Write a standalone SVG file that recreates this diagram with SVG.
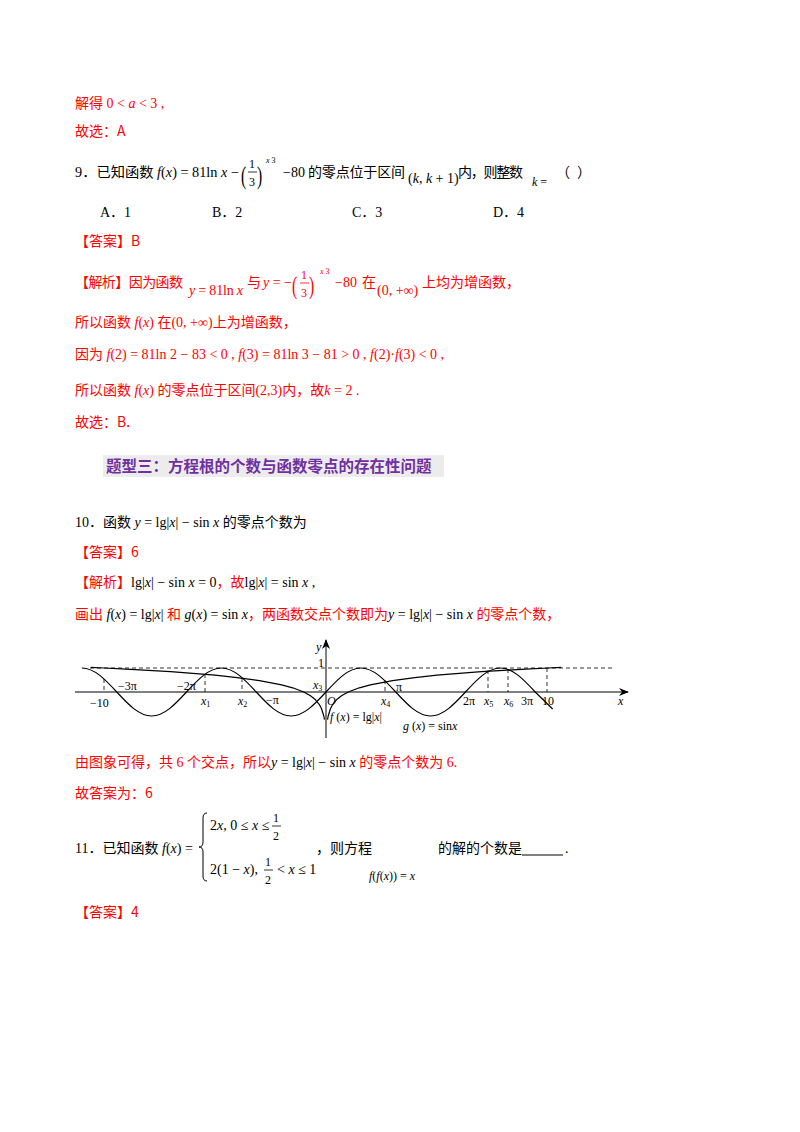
<svg xmlns="http://www.w3.org/2000/svg" width="800" height="1132" viewBox="0 0 800 1132">
<style>
text{font-family:"Liberation Serif","Noto Sans CJK SC",serif;font-size:14px;fill:#000}
.r,.r tspan{fill:#f00}
.c{font-family:"Noto Sans CJK SC",sans-serif}
.i{font-style:italic}
.g{font-size:12px}
.fr{font-size:12px}
.sp{font-size:8px}
.pa{font-size:26px;font-weight:100}
.ax{stroke:#000;stroke-width:1;fill:none}
.cv{stroke:#000;stroke-width:1.2;fill:none}
.d{stroke:#000;stroke-width:0.8;stroke-dasharray:4 3;fill:none}
</style>
<defs>
<marker id="ar" markerWidth="10" markerHeight="8" refX="9" refY="4" orient="auto" markerUnits="userSpaceOnUse"><path d="M0,0 L10,4 L0,8 L3,4z" fill="#000"/></marker>
<path id="lg" d="M327.55,719.7 L328.22,716 L330.44,708.8 L332.66,704.5 L337.1,699.2 L341.5,695.7 L348.2,692 L359.3,687.8 L370.4,684.8 L392.6,680.6 L414.8,677.6 L437,675.2 L459.2,673.3 L481.4,671.7 L503.6,670.3 L525.8,669.1 L548,668 L561.3,667.4"/>
</defs>

<g id="top">
<text x="75" y="108" class="r"><tspan class="c">解得</tspan> 0 &lt; <tspan class="i">a</tspan> &lt; 3 ,</text>
<text x="75" y="136" class="r c">故选：A</text>
</g>

<g id="q9">
<text x="75" y="177" textLength="164" lengthAdjust="spacingAndGlyphs"><tspan>9．</tspan><tspan class="c">已知函数</tspan> <tspan class="i">f</tspan>(<tspan class="i">x</tspan>) = 81ln <tspan class="i">x</tspan> −</text>
<text x="241" y="184" class="pa" transform="translate(241,184) scale(0.6,1) translate(-241,-184)">(</text>
<text x="249" y="168" class="fr">1</text>
<line x1="248" y1="172" x2="257" y2="172" stroke="#000" stroke-width="0.8"/>
<text x="249" y="186" class="fr">3</text>
<text x="257" y="184" class="pa" transform="translate(257,184) scale(0.6,1) translate(-257,-184)">)</text>
<text x="266" y="163" class="sp i">x <tspan font-style="normal">3</tspan></text>
<text x="283" y="177">−80</text>
<text x="308" y="177" class="c" textLength="97">的零点位于区间</text>
<text x="408" y="183">(<tspan class="i">k</tspan>, <tspan class="i">k</tspan> + 1)</text>
<text x="458" y="177" class="c" textLength="65">内，则整数</text>
<text x="532" y="186" class="g"><tspan class="i">k</tspan> =</text>
<text x="556" y="177" class="c">（</text>
<text x="577" y="177" class="c">）</text>
<text x="100" y="217">A．1</text>
<text x="212" y="217">B．2</text>
<text x="352" y="217">C．3</text>
<text x="493" y="217">D．4</text>
<text x="75" y="246" class="r c">【答案】B</text>
</g>

<g id="sol9" class="r">
<text x="75" y="287" class="r c" textLength="108">【解析】因为函数</text>
<text x="189" y="295" class="r" textLength="54"><tspan class="i">y</tspan> = 81ln <tspan class="i">x</tspan></text>
<text x="247" y="287" class="r c">与</text>
<text x="263" y="287" class="r"><tspan class="i">y</tspan> = −</text>
<text x="292" y="294" class="r pa" transform="translate(292,294) scale(0.6,1) translate(-292,-294)">(</text>
<text x="301" y="279" class="r fr">1</text>
<line x1="300" y1="283" x2="309" y2="283" stroke="#f00" stroke-width="0.8"/>
<text x="301" y="297" class="r fr">3</text>
<text x="309" y="294" class="r pa" transform="translate(309,294) scale(0.6,1) translate(-309,-294)">)</text>
<text x="320" y="274" class="r sp i">x <tspan font-style="normal">3</tspan></text>
<text x="335" y="287" class="r">−80</text>
<text x="362" y="287" class="r c">在</text>
<text x="377" y="295" class="r">(0, +∞)</text>
<text x="422" y="287" class="r c">上均为增函数，</text>

<text x="75" y="327" class="r"><tspan class="c">所以函数</tspan> <tspan class="i">f</tspan>(<tspan class="i">x</tspan>) <tspan class="c">在</tspan>(0, +∞)<tspan class="c">上为增函数，</tspan></text>
<text x="75" y="359" class="r"><tspan class="c">因为</tspan> <tspan class="i">f</tspan>(2) = 81ln 2 − 83 &lt; 0 ,  <tspan class="i">f</tspan>(3) = 81ln 3 − 81 &gt; 0 ,  <tspan class="i">f</tspan>(2)·<tspan class="i">f</tspan>(3) &lt; 0 ,</text>
<text x="75" y="395" class="r"><tspan class="c">所以函数</tspan> <tspan class="i">f</tspan>(<tspan class="i">x</tspan>) <tspan class="c">的零点位于区间</tspan>(2,3)<tspan class="c">内，故</tspan><tspan class="i">k</tspan> = 2 .</text>
<text x="75" y="427" class="r c">故选：B.</text>
</g>

<g id="band">
<rect x="103" y="455" width="341" height="22" fill="#ececec"/>
<text x="106" y="472" class="c" style="font-size:15.5px;font-weight:bold;fill:#7030a0">题型三：方程根的个数与函数零点的存在性问题</text>
</g>

<g id="q10">
<text x="75" y="527"><tspan>10．</tspan><tspan class="c">函数</tspan> <tspan class="i">y</tspan> = lg|<tspan class="i">x</tspan>| − sin <tspan class="i">x</tspan> <tspan class="c">的零点个数为</tspan></text>
<text x="75" y="557" class="r c">【答案】6</text>
<text x="75" y="587" class="r"><tspan class="c">【解析】</tspan><tspan style="fill:#000">lg|<tspan class="i" style="fill:#000">x</tspan>| − sin <tspan class="i" style="fill:#000">x</tspan> = 0</tspan><tspan class="c">，故</tspan><tspan style="fill:#000">lg|<tspan class="i" style="fill:#000">x</tspan>| = sin <tspan class="i" style="fill:#000">x</tspan> ,</tspan></text>
<text x="75" y="619" class="r"><tspan class="c">画出</tspan> <tspan style="fill:#000"><tspan class="i" style="fill:#000">f</tspan>(<tspan class="i" style="fill:#000">x</tspan>) = lg|<tspan class="i" style="fill:#000">x</tspan>|</tspan> <tspan class="c">和</tspan> <tspan style="fill:#000"><tspan class="i" style="fill:#000">g</tspan>(<tspan class="i" style="fill:#000">x</tspan>) = sin <tspan class="i" style="fill:#000">x</tspan></tspan><tspan class="c">，两函数交点个数即为</tspan><tspan style="fill:#000"><tspan class="i" style="fill:#000">y</tspan> = lg|<tspan class="i" style="fill:#000">x</tspan>| − sin <tspan class="i" style="fill:#000">x</tspan></tspan> <tspan class="c">的零点个数，</tspan></text>
</g>

<g id="graph">
<line class="ax" x1="75" y1="692" x2="628" y2="692" marker-end="url(#ar)"/>
<line class="ax" x1="326" y1="738" x2="326" y2="640" marker-end="url(#ar)"/>
<line class="d" x1="90" y1="668" x2="612" y2="668"/>
<line class="d" x1="104" y1="679" x2="104" y2="692"/>
<line class="d" x1="205" y1="674" x2="205" y2="692"/>
<line class="d" x1="242" y1="678" x2="242" y2="692"/>
<line class="d" x1="385" y1="680" x2="385" y2="692"/>
<line class="d" x1="488" y1="670" x2="488" y2="692"/>
<line class="d" x1="508" y1="669" x2="508" y2="692"/>
<line class="d" x1="547" y1="668" x2="547" y2="692"/>
<path class="cv" d="M81.9,668 c12.62,0 23.5,11.71 34.87,24 s22.25,24 34.87,24 s23.5,-11.71 34.87,-24 s22.25,-24 34.87,-24 s23.5,11.71 34.87,24 s22.25,24 34.87,24 s23.5,-11.71 34.87,-24 s22.25,-24 34.87,-24 s23.5,11.71 34.87,24 s22.25,24 34.87,24 s23.5,-11.71 34.87,-24 s22.25,-24 34.87,-24 s23.5,11.71 34.87,24 l17.45,17"/>
<use href="#lg" class="cv"/>
<use href="#lg" class="cv" transform="translate(652,0) scale(-1,1)"/>
<text x="90" y="707" class="g">−10</text>
<text x="118" y="690" class="g">−3π</text>
<text x="177" y="690" class="g">−2π</text>
<text x="201" y="705" class="g i">x<tspan font-size="8" font-style="normal" dy="2">1</tspan></text>
<text x="238" y="705" class="g i">x<tspan font-size="8" font-style="normal" dy="2">2</tspan></text>
<text x="266" y="704" class="g">−π</text>
<text x="313" y="689" class="g i">x<tspan font-size="8" font-style="normal" dy="2">3</tspan></text>
<text x="327" y="705" class="g i">O</text>
<text x="381" y="705" class="g i">x<tspan font-size="8" font-style="normal" dy="2">4</tspan></text>
<text x="396" y="691" class="g">π</text>
<text x="463" y="705" class="g">2π</text>
<text x="484" y="705" class="g i">x<tspan font-size="8" font-style="normal" dy="2">5</tspan></text>
<text x="504" y="705" class="g i">x<tspan font-size="8" font-style="normal" dy="2">6</tspan></text>
<text x="521" y="705" class="g">3π</text>
<text x="542" y="705" class="g">10</text>
<text x="618" y="705" class="g i">x</text>
<text x="316" y="651" class="g i">y</text>
<text x="318" y="667" class="g">1</text>
<text x="330" y="721" class="g"><tspan class="i">f</tspan> (<tspan class="i">x</tspan>) = lg|<tspan class="i">x</tspan>|</text>
<text x="403" y="730" class="g"><tspan class="i">g</tspan> (<tspan class="i">x</tspan>) = sin<tspan class="i">x</tspan></text>
</g>

<g id="sol10">
<text x="75" y="767" class="r"><tspan class="c">由图象可得，共</tspan> 6 <tspan class="c">个交点，所以</tspan><tspan style="fill:#000"><tspan class="i" style="fill:#000">y</tspan> = lg|<tspan class="i" style="fill:#000">x</tspan>| − sin <tspan class="i" style="fill:#000">x</tspan></tspan> <tspan class="c">的零点个数为</tspan> 6.</text>
<text x="75" y="798" class="r c">故答案为：6</text>
</g>

<g id="q11">
<text x="75" y="853"><tspan>11．</tspan><tspan class="c">已知函数</tspan> <tspan class="i">f</tspan>(<tspan class="i">x</tspan>) =</text>
<path d="M207,813 q-4,0 -4,5 v24 q0,5 -4,5 q4,0 4,5 v24 q0,5 4,5" fill="none" stroke="#000" stroke-width="1"/>
<text x="210" y="830">2<tspan class="i">x</tspan>, 0 ≤ <tspan class="i">x</tspan> ≤</text>
<text x="273" y="822" class="fr">1</text>
<line x1="272" y1="826" x2="281" y2="826" stroke="#000" stroke-width="0.8"/>
<text x="273" y="840" class="fr">2</text>
<text x="210" y="874">2(1 − <tspan class="i">x</tspan>),</text>
<text x="265" y="866" class="fr">1</text>
<line x1="264" y1="870" x2="273" y2="870" stroke="#000" stroke-width="0.8"/>
<text x="265" y="884" class="fr">2</text>
<text x="277" y="874">&lt; <tspan class="i">x</tspan> ≤ 1</text>
<text x="316" y="853" class="c">，则方程</text>
<text x="369" y="880" class="g"><tspan class="i">f</tspan>(<tspan class="i">f</tspan>(<tspan class="i">x</tspan>)) = <tspan class="i">x</tspan></text>
<text x="438" y="853" class="c">的解的个数是</text>
<line x1="522" y1="855" x2="563" y2="855" stroke="#000" stroke-width="1"/>
<text x="565" y="853">.</text>
<text x="75" y="917" class="r c">【答案】4</text>
</g>
</svg>
